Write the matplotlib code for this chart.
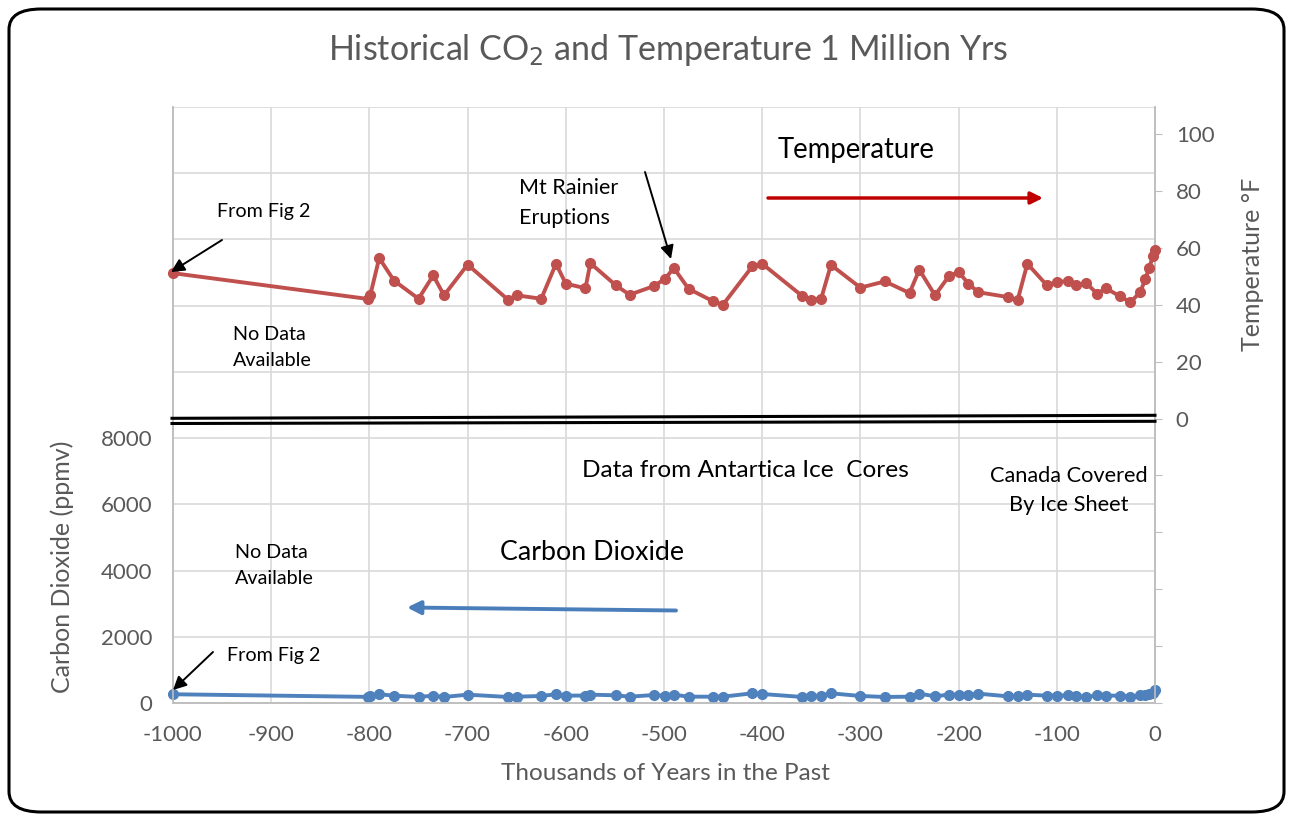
import matplotlib
matplotlib.use("Agg")
import matplotlib.pyplot as plt
from matplotlib.ticker import FixedLocator, FuncFormatter
from matplotlib.patches import FancyBboxPatch, FancyArrowPatch
from matplotlib.lines import Line2D

plt.rcParams['font.family'] = ['Lato', 'DejaVu Sans']

# ---------------- data ----------------
years_k = [-1000, -801, -799, -790, -775, -750, -735, -724, -700, -659, -650, -625,
           -610, -600, -580, -575, -549, -535, -510, -499, -490, -475, -450, -440,
           -410, -400, -359, -350, -340, -330, -300, -275, -250, -240, -224, -210,
           -200, -190, -180, -150, -140, -130, -110, -100, -89, -80, -70, -59, -50,
           -36, -25, -15, -10, -6, -2, 0]
temperature_f = [51.1, 42.0, 43.5, 56.4, 48.5, 42.1, 50.3, 43.3, 54.1, 41.8, 43.3, 42.1,
                 54.4, 47.4, 45.8, 54.6, 46.8, 43.5, 46.6, 49.1, 52.9, 45.6, 41.2, 40.0,
                 53.5, 54.4, 43.0, 41.8, 42.1, 54.0, 46.0, 48.2, 44.1, 52.3, 43.3, 50.0,
                 51.5, 47.4, 44.4, 42.7, 41.5, 54.4, 46.8, 48.0, 48.3, 47.0, 47.6, 43.9, 45.8,
                 43.0, 40.9, 44.4, 48.9, 52.9, 57.1, 59.1]
co2_ppmv = [264, 185, 200, 264, 222, 182, 222, 182, 252, 182, 191, 212,
            264, 222, 225, 252, 232, 191, 242, 222, 252, 191, 191, 191,
            293, 272, 182, 202, 222, 293, 212, 182, 191, 282, 202, 252,
            252, 242, 282, 202, 202, 252, 222, 222, 232, 212, 182, 232, 222,
            222, 191, 232, 252, 272, 293, 400]

x_ticks = list(range(-1000, 1, 100))
co2_ticks = list(range(0, 18001, 2000))
temp_ticks = list(range(-100, 101, 20))

# ---------------- figure ----------------
W, H = 1293, 818
fig = plt.figure(figsize=(W / 100, H / 100), dpi=100)


def fp(x, y):
    return (x / W, 1 - y / H)


ax_left, ax_right, ax_top, ax_bot = 173, 1155, 107, 703
ax = fig.add_axes([ax_left / W, 1 - ax_bot / H, (ax_right - ax_left) / W, (ax_bot - ax_top) / H])
ax2 = ax.twinx()

grid_c = '#D9D9D9'
text_c = '#595959'
red = '#C0504D'
blue = '#4F81BD'

ax.set_xlim(-1000, 0)
ax.set_ylim(0, 18000)
ax2.set_ylim(-100, 109.5)

ax.xaxis.set_major_locator(FixedLocator(x_ticks))
ax.yaxis.set_major_locator(FixedLocator(co2_ticks))
ax2.yaxis.set_major_locator(FixedLocator(temp_ticks))
ax.yaxis.set_major_formatter(FuncFormatter(lambda v, p: f'{int(v)}' if v <= 8000 else ''))
ax2.yaxis.set_major_formatter(FuncFormatter(lambda v, p: f'{int(v)}' if v >= 0 else ''))
ax.xaxis.set_major_formatter(FuncFormatter(lambda v, p: f'{int(v)}'))

ax.grid(True, color=grid_c, lw=1.2)
ax.set_axisbelow(True)
ax.spines['top'].set_visible(False)
ax2.spines['top'].set_visible(False)
for a in (ax, ax2):
    for s in ['left', 'right', 'bottom']:
        a.spines[s].set_color('#BFBFBF')
        a.spines[s].set_linewidth(1.2)
ax.tick_params(axis='x', length=0, labelsize=16, labelcolor=text_c, pad=16)
ax.tick_params(axis='y', length=0, labelsize=16, labelcolor=text_c, pad=15)
ax2.tick_params(axis='y', length=5, color='#BFBFBF', labelsize=16, labelcolor=text_c, pad=10)

ax.plot(years_k, co2_ppmv, color=blue, lw=2.8, marker='o', ms=7, zorder=5, clip_on=False)
ax2.plot(years_k, temperature_f, color=red, lw=2.8, marker='o', ms=7, zorder=5, clip_on=False)

# labels
fig.text(*fp(668, 50), 'Historical CO$_2$ and Temperature 1 Million Yrs', ha='center', va='center',
         fontsize=24.5, color=text_c)
fig.text(*fp(665, 773), 'Thousands of Years in the Past', ha='center', va='center', fontsize=17.5, color=text_c)
fig.text(*fp(62, 567), 'Carbon Dioxide (ppmv)', ha='center', va='center', rotation=90, fontsize=18, color=text_c)
fig.text(*fp(1252, 264), 'Temperature °F', ha='center', va='center', rotation=90, fontsize=18, color=text_c)


# annotations
def txt(x, y, s, size=14.2, ha='left'):
    fig.text(*fp(x, y), s, ha=ha, va='center', fontsize=size, color='black')


txt(778, 150, 'Temperature', 19.8)
txt(519, 188, 'Mt Rainier', 15.5)
txt(519, 218, 'Eruptions', 15.5)
txt(217, 211, 'From Fig 2')
txt(233, 335, 'No Data')
txt(233, 361, 'Available')
txt(582, 471, 'Data from Antartica Ice  Cores', 17.6)
txt(1069, 476, 'Canada Covered', 15.7, ha='center')
txt(1069, 505, 'By Ice Sheet', 15.7, ha='center')
txt(235, 552, 'No Data')
txt(235, 579, 'Available')
txt(500, 552, 'Carbon Dioxide', 19.3)
txt(227, 656, 'From Fig 2')


def arrow(x0, y0, x1, y1, color='black', lw=1.4, ms=20):
    fig.add_artist(FancyArrowPatch(fp(x0, y0), fp(x1, y1), transform=fig.transFigure,
                                   arrowstyle='-|>', mutation_scale=ms, lw=lw,
                                   color=color, shrinkA=0, shrinkB=0))


arrow(222, 240, 171, 272)
arrow(645, 172, 671, 259)
arrow(213, 652, 173, 690)
arrow(768, 198, 1043, 198, color='#C00000', lw=2.5, ms=18)
arrow(676, 610.5, 407, 607.5, color='#4A7EBB', lw=2.8, ms=20)

# double line separator
fig.add_artist(Line2D([fp(172, 0)[0], fp(1155, 0)[0]], [fp(0, 418.3)[1], fp(0, 415.3)[1]],
                      color='black', lw=2.2, transform=fig.transFigure))
fig.add_artist(Line2D([fp(172, 0)[0], fp(1155, 0)[0]], [fp(0, 423.5)[1], fp(0, 421.3)[1]],
                      color='black', lw=2.2, transform=fig.transFigure))

# rounded border
fig.add_artist(FancyBboxPatch(fp(9, 812), 1275 / W, 803 / H, boxstyle='round,pad=0,rounding_size=0.025',
                              transform=fig.transFigure, fill=False, ec='black', lw=2.2))

fig.savefig('out.png', dpi=100)
